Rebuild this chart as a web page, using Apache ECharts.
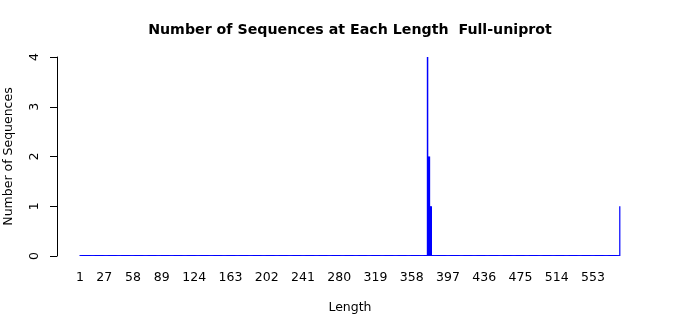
<!DOCTYPE html>
<html>
<head>
<meta charset="utf-8">
<script src="https://cdn.jsdelivr.net/npm/echarts@6/dist/echarts.min.js"></script>
<style>html,body{margin:0;padding:0;background:#fff}#c{width:700px;height:315px}</style>
</head>
<body>
<div id="c"></div>
<script>
// Length domain (categories) shown on the x axis
var minLength = 1;
var maxLength = 582;
// Non-zero counts
var peakLengths = [375, 376, 377, 378, 379, 582];
var peakCounts  = [4, 2, 2, 1, 1, 1];
// Tick labels drawn on the x axis
var xTickLabels = ['1','27','58','89','124','163','202','241','280','319','358','397','436','475','514','553'];
var yTicks = [0, 1, 2, 3, 4];

var categories = [];
var counts = [];
for (var L = minLength; L <= maxLength; L++) {
  categories.push(String(L));
  var idx = peakLengths.indexOf(L);
  counts.push(idx >= 0 ? peakCounts[idx] : 0);
}
var tickSet = {};
xTickLabels.forEach(function (t) { tickSet[t] = true; });

var chart = echarts.init(document.getElementById('c'));
var font = 'DejaVu Sans';
chart.setOption({
  animation: false,
  backgroundColor: '#ffffff',
  title: {
    text: 'Number of Sequences at Each Length  Full-uniprot',
    left: 'center',
    top: 18,
    textStyle: { fontFamily: font, fontWeight: 'bold', fontSize: 14.2, color: '#000' }
  },
  grid: { left: 79.5, width: 540.9, top: 57, height: 199, containLabel: false, outerBoundsMode: 'none' },
  xAxis: {
    type: 'category',
    data: categories,
    name: 'Length',
    nameLocation: 'middle',
    nameGap: 45,
    nameTextStyle: { fontFamily: font, fontSize: 12.5, color: '#000' },
    axisLine: { show: false },
    axisTick: { show: false },
    axisLabel: {
      interval: function (i, v) { return tickSet[v] === true; },
      fontFamily: font, fontSize: 12.5, color: '#000', margin: 15
    }
  },
  yAxis: {
    type: 'value',
    min: yTicks[0],
    max: yTicks[yTicks.length - 1],
    interval: 1,
    offset: 22.5,
    name: 'Number of Sequences',
    nameLocation: 'middle',
    nameGap: 42,
    nameTextStyle: { fontFamily: font, fontSize: 12.5, color: '#000' },
    axisLine: { show: true, lineStyle: { color: '#000', width: 1 } },
    axisTick: { show: true, length: 7, lineStyle: { color: '#000' } },
    splitLine: { show: false },
    axisLabel: { rotate: 90, fontFamily: font, fontSize: 12.5, color: '#000', margin: 16 }
  },
  series: [
    {
      type: 'bar',
      data: counts,
      barWidth: 1.5,
      barMinHeight: 1,
      itemStyle: { color: '#0000ff' }
    }
  ]
});
</script>
</body>
</html>
